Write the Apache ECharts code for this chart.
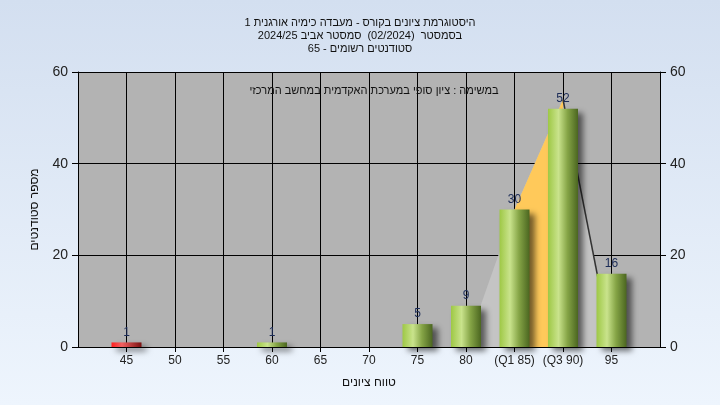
<!DOCTYPE html>
<html>
<head>
<meta charset="utf-8">
<script src="https://cdn.jsdelivr.net/npm/echarts@6/dist/echarts.min.js"></script>
<style>
  html, body { margin: 0; padding: 0; }
  #chart { width: 720px; height: 405px; }
</style>
</head>
<body>
<div id="chart" dir="rtl"></div>
<script>
// טווחי ציונים ומספר סטודנטים בכל טווח
const scores = [45, 50, 55, 60, 65, 70, 75, 80, 85, 90, 95]
const counts = [1, 0, 0, 1, 0, 0, 5, 9, 30, 52, 16]
const tickLabels = { 85: '(Q1 85)', 90: '(Q3 90)' }
// מצולע הרבעונים שמאחורי העמודות
const polyX = [80, 85, 90, 95]
const polyY = [0, 30, 54, 0]
const q1 = 85
const q3 = 90

const titleText = 'היסטוגרמת ציונים בקורס - מעבדה כימיה אורגנית 1\nבסמסטר  (02/2024)  סמסטר אביב 2024/25\nסטודנטים רשומים - 65'
const subText = 'במשימה : ציון סופי במערכת האקדמית במחשב המרכזי'

const font = "'Liberation Sans', 'DejaVu Sans', sans-serif"

const greenBar = new echarts.graphic.LinearGradient(0, 0, 1, 0, [
  { offset: 0, color: '#9ec845' },
  { offset: 0.35, color: '#c9e38c' },
  { offset: 0.65, color: '#85a446' },
  { offset: 1, color: '#4b6620' }
])
const redBar = new echarts.graphic.LinearGradient(0, 0, 1, 0, [
  { offset: 0, color: '#ff2020' },
  { offset: 0.35, color: '#f06060' },
  { offset: 1, color: '#7a1010' }
])

const barData = scores.map((s, i) => ({
  value: [s, counts[i]],
  itemStyle: { color: s < 55 ? redBar : greenBar }
}))
const polyData = polyX.map((x, i) => [x, polyY[i]])
const midData = polyData.filter(p => p[0] >= q1 && p[0] <= q3)
const rightData = polyData.filter(p => p[0] >= q3)

const chart = echarts.init(document.getElementById('chart'))
chart.setOption({
  backgroundColor: new echarts.graphic.LinearGradient(0, 0, 0, 1, [
    { offset: 0, color: '#d3dff0' },
    { offset: 1, color: '#eef5fd' }
  ]),
  animation: false,
  textStyle: { fontFamily: font },
  title: [
    {
      text: titleText,
      left: 'center',
      top: 11,
      textStyle: { fontSize: 11, fontWeight: 'normal', color: '#111', lineHeight: 13, fontFamily: font }
    },
    {
      text: subText,
      left: 369,
      textAlign: 'center',
      top: 80,
      textStyle: { fontSize: 11, fontWeight: 'normal', color: '#111', fontFamily: font }
    }
  ],
  grid: { left: 78, right: 60, top: 72, bottom: 58, show: true, backgroundColor: '#b3b3b3', borderWidth: 0 },
  xAxis: {
    type: 'value',
    min: 40,
    max: 100,
    interval: 5,
    name: 'טווח ציונים',
    nameLocation: 'middle',
    nameGap: 30,
    nameTextStyle: { fontSize: 12, color: '#111' },
    axisLine: { lineStyle: { color: '#000' } },
    axisTick: { length: 5, lineStyle: { color: '#000' } },
    axisLabel: {
      fontSize: 12,
      color: '#222',
      margin: 8,
      showMinLabel: false,
      showMaxLabel: false,
      formatter: v => tickLabels[v] || String(v)
    },
    splitLine: { show: true, lineStyle: { color: '#000', width: 1 } }
  },
  yAxis: [
    {
      type: 'value',
      min: 0,
      max: 60,
      interval: 20,
      name: 'מספר סטודנטים',
      nameLocation: 'middle',
      nameGap: 37,
      nameTextStyle: { fontSize: 12, color: '#111' },
      axisLine: { show: true, lineStyle: { color: '#000' } },
      axisTick: { show: true, length: 6, lineStyle: { color: '#000' } },
      axisLabel: { fontSize: 14, color: '#222', margin: 10 },
      splitLine: { show: true, lineStyle: { color: '#000', width: 1 } }
    },
    {
      type: 'value',
      min: 0,
      max: 60,
      interval: 20,
      position: 'right',
      axisLine: { show: true, lineStyle: { color: '#000' } },
      axisTick: { show: true, length: 6, lineStyle: { color: '#000' } },
      axisLabel: { fontSize: 14, color: '#222', margin: 10 },
      splitLine: { show: false }
    }
  ],
  series: [
    {
      type: 'line',
      data: polyData,
      symbol: 'none',
      lineStyle: { width: 0 },
      areaStyle: { color: '#c4c4c4', opacity: 1 },
      z: 1
    },
    {
      type: 'line',
      data: midData,
      symbol: 'none',
      lineStyle: { width: 0 },
      areaStyle: { color: '#ffc95a', opacity: 1 },
      z: 1
    },
    {
      type: 'line',
      data: rightData,
      symbol: 'none',
      lineStyle: { width: 1.5, color: '#333' },
      z: 1
    },
    {
      type: 'bar',
      data: barData,
      barWidth: 30,
      z: 3,
      itemStyle: {
        shadowBlur: 6,
        shadowOffsetX: 5,
        shadowOffsetY: 4,
        shadowColor: 'rgba(0,0,0,0.55)'
      },
      label: {
        show: true,
        position: 'top',
        distance: 4,
        fontSize: 12,
        color: '#1c2c58',
        formatter: p => (p.value[1] ? String(p.value[1]) : '')
      }
    }
  ]
})
</script>
</body>
</html>
